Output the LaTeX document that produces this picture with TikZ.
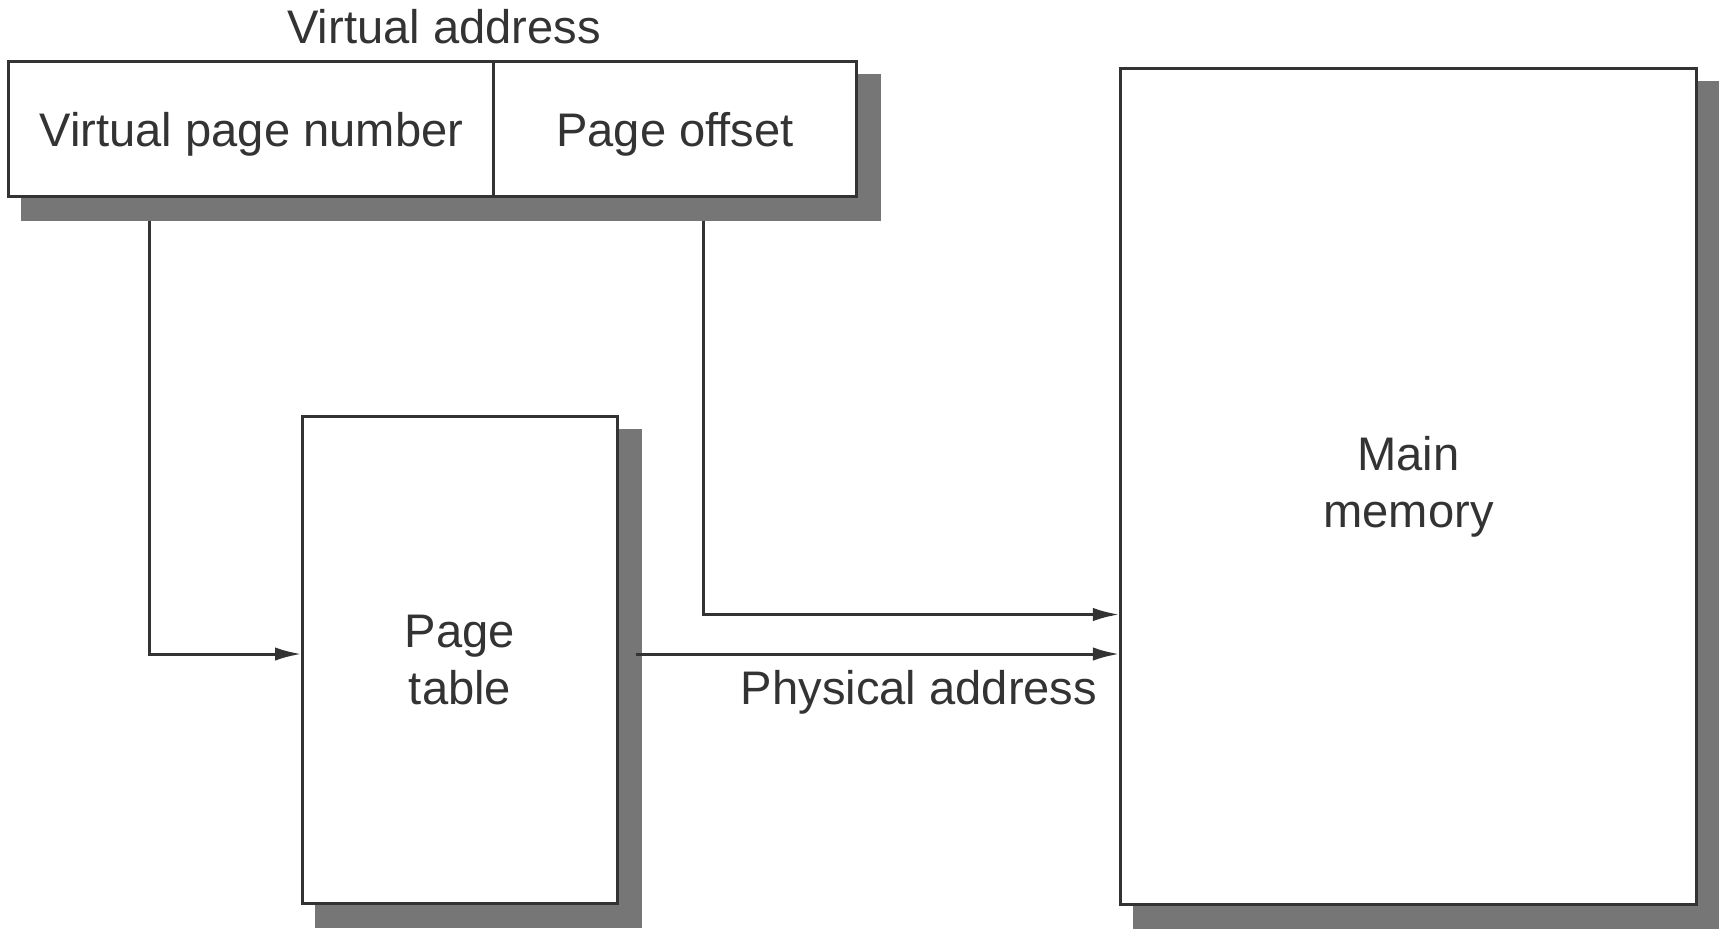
\documentclass[tikz,border=0pt]{standalone}
\usepackage{fontspec}
\setmainfont{Liberation Sans}
\usepackage{xcolor}
\usepackage{tikz}
\usetikzlibrary{arrows.meta,backgrounds}
\definecolor{ink}{HTML}{333333}
\definecolor{shadowgray}{HTML}{767676}

\begin{document}
\begin{tikzpicture}[x=0.01cm, y=-0.01cm,
    every node/.style={font=\fontsize{13.4}{16.2}\selectfont, text=ink},
    box/.style={draw=ink, line width=0.85pt, fill=white, inner sep=0pt, align=center},
    field/.style={box, minimum height=1.34cm, text depth=0pt},
    lbl/.style={inner sep=0pt},
    drop/.style={fill=shadowgray},
    conn/.style={draw=ink, line width=0.85pt, -{Latex[length=7.5pt,width=3.8pt]}}]
            \useasboundingbox (0,0) rectangle (1719,930);

            \node[lbl] (va) at (444, 27) {Virtual address};
            \node[field, minimum width=4.85cm] (vpn) at (251.5, 129) {Virtual page number};
            \node[field, minimum width=3.62cm] (off) at (675, 129) {Page offset};
            \node[box, minimum width=3.14cm, minimum height=4.86cm] (pt) at (460, 660) {Page\\table};
            \node[box, minimum width=5.75cm, minimum height=8.35cm] (mm) at (1408.5, 486.5) {Main\\memory};
            \node[lbl] (pa) at (919, 692) {Physical address};

            \begin{pgfonlayer}{background}
            \path[drop] ([shift={(14,14)}]vpn.north west) rectangle ([shift={(23,23)}]off.south east); % address shadow
            \path[drop] ([shift={(14,14)}]pt.north west) rectangle ([shift={(23,23)}]pt.south east); % table shadow
            \path[drop] ([shift={(14,14)}]mm.north west) rectangle ([shift={(23,23)}]mm.south east); % memory shadow
            \end{pgfonlayer}

            \coordinate (ptout) at ([shift={(17,-6)}]pt.east);
            \draw[conn] ([shift={(-102,23)}]vpn.south) |- ([shift={(0,-6)}]pt.west); % vpn-table
            \draw[conn] ([shift={(28,23)}]off.south) |- ([shift={(0,128)}]mm.west); % offset-memory
            \draw[conn] (ptout) -- (ptout -| mm.west); % table-memory
        \end{tikzpicture}
\end{document}
